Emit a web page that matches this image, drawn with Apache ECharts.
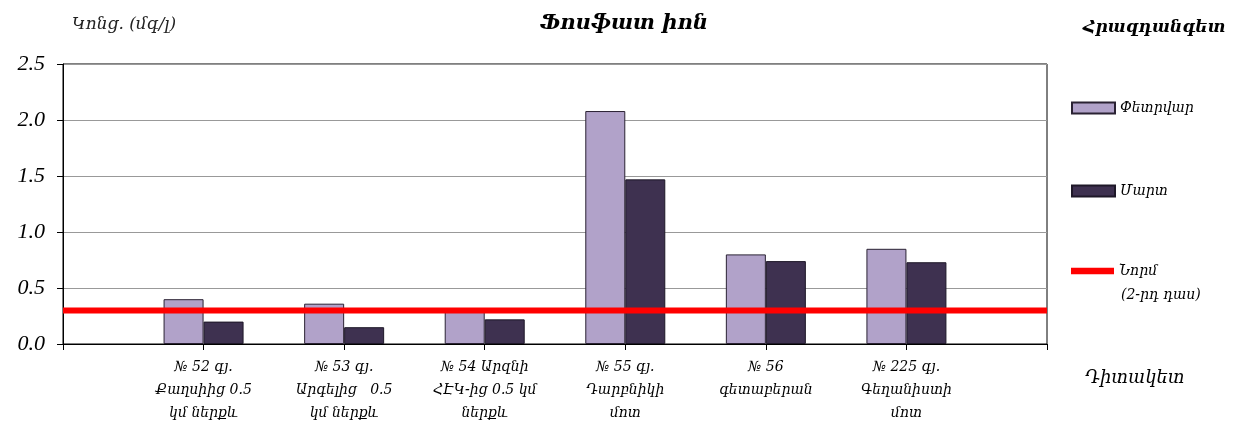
<!DOCTYPE html>
<html lang="hy">
<head>
    <meta charset="UTF-8">
    <title>Ֆոսֆատ իոն</title>
    <script src="https://cdn.jsdelivr.net/npm/echarts@6/dist/echarts.min.js"></script>
    <style>
        body { margin: 0; padding: 0; background: #fff; }
        #chart { width: 1248px; height: 428px; }
    </style>
</head>
<body>
<div id="chart"></div>
<script>
// դիտակետեր (առաջին և վերջին դատարկ են, ինչպես բնօրինակում)
const categories = [
    '',
    '№ 52 գյ.\nՔաղսիից 0.5\nկմ ներքև',
    '№ 53 գյ.\nԱրգելից   0.5\nկմ ներքև',
    '№ 54 Արզնի\nՀԷԿ-ից 0.5 կմ\nներքև',
    '№ 55 գյ.\nԴարբնիկի\nմոտ',
    '№ 56\nգետաբերան',
    '№ 225 գյ.\nԳեղանիստի\nմոտ',
    ''
];
const febValues = [null, 0.40, 0.36, 0.31, 2.08, 0.80, 0.85, null];
const marValues = [null, 0.20, 0.15, 0.22, 1.47, 0.74, 0.73, null];
const normValues = [0.3, 0.3, 0.3, 0.3, 0.3, 0.3, 0.3, 0.3];
const yTicks = [0, 0.5, 1.0, 1.5, 2.0, 2.5];

const ARM = "'DejaVu Serif', serif";
const NUM = "'Liberation Serif', serif";
const chart = echarts.init(document.getElementById('chart'));

const legendText = { fontFamily: ARM, fontStyle: 'italic', fontSize: 14, color: '#000' };

chart.setOption({
    animation: false,
    title: {
        text: 'Ֆոսֆատ իոն',
        left: 'center',
        top: 8,
        textStyle: { fontFamily: ARM, fontStyle: 'italic', fontWeight: 'bold', fontSize: 21, color: '#000' }
    },
    grid: {
        left: 63, right: 201, top: 64, bottom: 84,
        show: true, borderColor: '#000', borderWidth: 1
    },
    legend: [
        {
            left: 1071, top: 101, padding: 0, itemWidth: 43, itemHeight: 11, itemGap: 6,
            data: [{ name: 'Փետրվար', icon: 'rect' }],
            textStyle: legendText
        },
        {
            left: 1071, top: 184, padding: 0, itemWidth: 43, itemHeight: 11, itemGap: 6,
            data: [{ name: 'Մարտ', icon: 'rect' }],
            textStyle: legendText
        },
        {
            left: 1071, top: 264, padding: 0, itemWidth: 43, itemHeight: 11, itemGap: 6,
            data: [{ name: 'Նորմ', icon: 'path://M0,0 L40,0 L40,6 L0,6 Z', itemStyle: { color: '#ff0000', borderWidth: 0 } }],
            textStyle: legendText
        }
    ],
    graphic: [
        {
            type: 'text', left: 1083, top: 19,
            style: { text: 'Հրազդանգետ', font: "italic bold 17px 'DejaVu Serif'", fill: '#000' }
        },
        {
            type: 'text', left: 1121, top: 288,
            style: { text: '(2-րդ դաս)', font: "italic 14px 'DejaVu Serif'", fill: '#000' }
        },
        {
            type: 'text', left: 72, top: 16,
            style: { text: 'Կոնց. (մգ/լ)', font: "italic 17px 'DejaVu Serif'", fill: '#222' }
        },
        {
            type: 'text', left: 1085, top: 369,
            style: { text: 'Դիտակետ', font: "italic 18px 'DejaVu Serif'", fill: '#000' }
        }
    ],
    xAxis: {
        type: 'category',
        data: categories,
        boundaryGap: false,
        axisLine: { lineStyle: { color: '#000', width: 1 } },
        axisTick: { show: true, length: 6, lineStyle: { color: '#000' } },
        axisLabel: {
            interval: 0, margin: 12,
            fontFamily: ARM, fontStyle: 'italic', fontSize: 14, lineHeight: 23, color: '#000'
        },
        splitLine: { show: false }
    },
    yAxis: {
        type: 'value',
        min: 0, max: 2.5, interval: 0.5,
        axisLine: { show: true, lineStyle: { color: '#000', width: 1 } },
        axisTick: { show: true, length: 6, lineStyle: { color: '#000' } },
        axisLabel: {
            margin: 18,
            fontFamily: NUM, fontStyle: 'italic', fontSize: 22, color: '#000',
            formatter: v => yTicks.includes(v) ? v.toFixed(1) : ''
        },
        splitLine: { lineStyle: { color: '#999', width: 1 } }
    },
    series: [
        {
            name: 'Փետրվար',
            type: 'bar',
            data: febValues,
            barWidth: 40,
            barGap: '0%',
            itemStyle: { color: '#b1a2c9', borderColor: '#2a2233', borderWidth: 1 }
        },
        {
            name: 'Մարտ',
            type: 'bar',
            data: marValues,
            barWidth: 40,
            barGap: '0%',
            itemStyle: { color: '#3e3150', borderColor: '#1e1828', borderWidth: 1 }
        },
        {
            name: 'Նորմ',
            type: 'line',
            data: normValues,
            symbol: 'none',
            z: 5,
            lineStyle: { color: '#ff0000', width: 6 },
            itemStyle: { color: '#ff0000' }
        }
    ]
});
</script>
</body>
</html>
